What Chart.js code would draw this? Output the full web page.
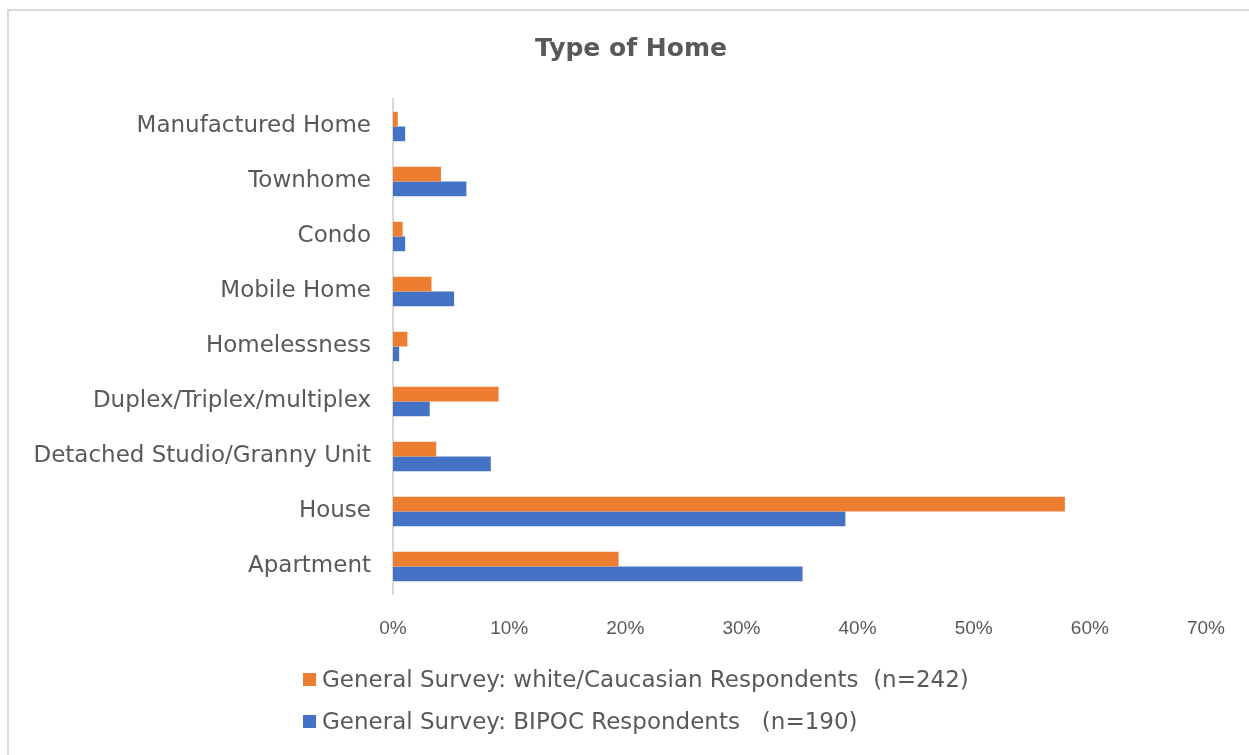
<!DOCTYPE html>
<html>
<head>
<meta charset="utf-8">
<script src="https://cdn.jsdelivr.net/npm/chart.js@4/dist/chart.umd.min.js"></script>
<style>
    body { margin: 0; background: #fff; overflow: hidden; }
    #wrap { position: relative; width: 1249px; height: 755px; }
    /* Cadre gris clair autour du graphique */
    #cadre { position: absolute; left: 7px; top: 9px; width: 1300px; height: 800px; border: 2px solid #d9d9d9; }
    #chart { position: absolute; left: 0; top: 0; }
    #titre { position: absolute; left: 0; top: 33px; width: 1262px; text-align: center; font-family: 'DejaVu Sans', sans-serif; font-weight: bold; font-size: 25px; color: #595959; }
    #legende { position: absolute; left: 303px; top: 658px; font-family: 'DejaVu Sans', sans-serif; font-size: 23px; color: #595959; }
    .item { display: flex; align-items: center; height: 42px; white-space: pre; }
    .carre { width: 13px; height: 13px; margin-right: 6px; }
</style>
</head>
<body>
<div id="wrap">
    <div id="cadre"></div>
    <canvas id="chart" width="1249" height="755"></canvas>
    <div id="titre">Type of Home</div>
    <div id="legende"></div>
</div>
<script>
// Catégories (de haut en bas)
const categories = [
    'Manufactured Home',
    'Townhome',
    'Condo',
    'Mobile Home',
    'Homelessness',
    'Duplex/Triplex/multiplex',
    'Detached Studio/Granny Unit',
    'House',
    'Apartment'
];

// Pourcentages
const whiteValues = [0.41, 4.13, 0.83, 3.31, 1.24, 9.09, 3.72, 57.85, 19.42];
const bipocValues = [1.05, 6.32, 1.05, 5.26, 0.53, 3.16, 8.42, 38.95, 35.26];

const seriesLabels = [
    'General Survey: white/Caucasian Respondents  (n=242)',
    'General Survey: BIPOC Respondents   (n=190)'
];
const seriesColors = ['#ED7D31', '#4472C4'];

const xMin = 0;
const xMax = 70;
const xStep = 10;

const texte = '#595959';

const chart = new Chart(document.getElementById('chart').getContext('2d'), {
    type: 'bar',
    data: {
        labels: categories,
        datasets: [
            { label: seriesLabels[0], data: whiteValues, backgroundColor: seriesColors[0] },
            { label: seriesLabels[1], data: bipocValues, backgroundColor: seriesColors[1] }
        ]
    },
    options: {
        indexAxis: 'y',
        responsive: false,
        animation: false,
        categoryPercentage: 0.535,
        barPercentage: 1.0,
        layout: { padding: { left: 0, right: 43, top: 99, bottom: 111 } },
        plugins: {
            legend: { display: false },   // légende faite en HTML en dessous
            tooltip: { enabled: false },
            title: { display: false }     // titre en HTML (centré sur le cadre)
        },
        scales: {
            x: {
                min: xMin,
                max: xMax,
                grid: { display: false, drawTicks: false },
                border: { display: false },
                ticks: {
                    stepSize: xStep,
                    padding: 23,
                    color: texte,
                    font: { family: 'Liberation Sans', size: 19 },
                    callback: (v) => v + '%'
                },
                afterFit: (scale) => { scale.height = 50; }
            },
            y: {
                grid: { display: false, drawTicks: false },
                border: { display: true, color: '#d9d9d9', width: 2 },
                ticks: {
                    padding: 22,
                    color: texte,
                    font: { family: 'DejaVu Sans', size: 23 }
                },
                afterFit: (scale) => { scale.width = 393; }
            }
        }
    }
});

// Légende verticale (une ligne par série)
const legende = document.getElementById('legende');
seriesLabels.forEach((label, i) => {
    const item = document.createElement('div');
    item.className = 'item';
    const carre = document.createElement('span');
    carre.className = 'carre';
    carre.style.background = seriesColors[i];
    const txt = document.createElement('span');
    txt.textContent = label;
    item.appendChild(carre);
    item.appendChild(txt);
    legende.appendChild(item);
});
</script>
</body>
</html>
